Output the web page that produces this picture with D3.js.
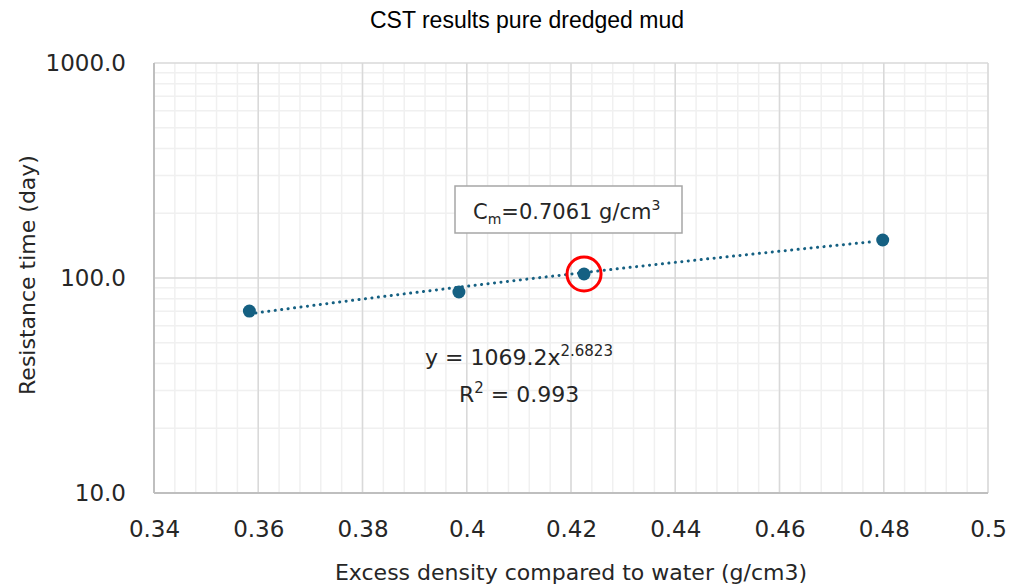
<!DOCTYPE html>
<html>
<head>
<meta charset="utf-8">
<script src="https://cdn.jsdelivr.net/npm/d3@7"></script>
<style>
  body { margin: 0; background: #fff; }
  svg { font-family: "DejaVu Sans", sans-serif; }
</style>
</head>
<body>
<script>
// data
var density = [0.3583, 0.3985, 0.4225, 0.4798];
var resistance = [70.2, 86.1, 104.4, 150.2];
var xTicks = [0.34, 0.36, 0.38, 0.4, 0.42, 0.44, 0.46, 0.48, 0.5];
var yTicks = [10, 100, 1000];
var fitCoef = 1069.2, fitExp = 2.6823, fitR2 = 0.993;
var highlightIndex = 2;

var w = 1014, h = 585;
var margin = {top: 63, right: 26, bottom: 92, left: 154},
    width = w - margin.left - margin.right,
    height = h - margin.top - margin.bottom;

var svg = d3.select("body").append("svg")
    .attr("width", w)
    .attr("height", h);

var g = svg.append("g")
    .attr("transform", "translate(" + margin.left + "," + margin.top + ")");

var xScale = d3.scaleLinear().domain([0.34, 0.5]).range([0, width]);
var yScale = d3.scaleLog().domain([10, 1000]).range([height, 0]);

// minor grid
var xMinor = d3.range(0.34, 0.5001, 0.004);
g.selectAll(".xminor").data(xMinor).enter().append("line")
    .attr("x1", function(d) { return xScale(d); })
    .attr("x2", function(d) { return xScale(d); })
    .attr("y1", 0).attr("y2", height)
    .attr("stroke", "#f0f0f0").attr("stroke-width", 1.5);

var yMinor = [];
[10, 100].forEach(function(b) { for (var k = 2; k < 10; k++) yMinor.push(b * k); });
g.selectAll(".yminor").data(yMinor).enter().append("line")
    .attr("x1", 0).attr("x2", width)
    .attr("y1", function(d) { return yScale(d); })
    .attr("y2", function(d) { return yScale(d); })
    .attr("stroke", "#f0f0f0").attr("stroke-width", 1.5);

// major grid
g.selectAll(".xmajor").data(xTicks).enter().append("line")
    .attr("x1", function(d) { return xScale(d); })
    .attr("x2", function(d) { return xScale(d); })
    .attr("y1", 0).attr("y2", height)
    .attr("stroke", "#d9d9d9").attr("stroke-width", 1.5);
g.selectAll(".ymajor").data(yTicks).enter().append("line")
    .attr("x1", 0).attr("x2", width)
    .attr("y1", function(d) { return yScale(d); })
    .attr("y2", function(d) { return yScale(d); })
    .attr("stroke", "#d9d9d9").attr("stroke-width", 1.5);

// axes lines
g.append("line").attr("x1", 0).attr("x2", 0).attr("y1", 0).attr("y2", height)
    .attr("stroke", "#bfbfbf").attr("stroke-width", 2);
g.append("line").attr("x1", 0).attr("x2", width).attr("y1", height).attr("y2", height)
    .attr("stroke", "#bfbfbf").attr("stroke-width", 2);

// tick labels
var xAxis = g.append("g")
    .attr("transform", "translate(0," + height + ")")
    .call(d3.axisBottom(xScale).tickValues(xTicks).tickSize(0).tickPadding(28)
        .tickFormat(function(d) { return String(+d.toFixed(2)); }));
xAxis.select(".domain").remove();
xAxis.selectAll("text").attr("font-size", "23px").attr("fill", "#262626")
    .attr("font-family", "'DejaVu Sans', sans-serif");

var yAxis = g.append("g")
    .call(d3.axisLeft(yScale).tickValues(yTicks).tickSize(0).tickPadding(28)
        .tickFormat(d3.format(".1f")));
yAxis.select(".domain").remove();
yAxis.selectAll("text").attr("font-size", "23px").attr("fill", "#262626")
    .attr("font-family", "'DejaVu Sans', sans-serif");

// trendline
var fitX = d3.range(d3.min(density), d3.max(density) + 0.0001, 0.002);
var line = d3.line()
    .x(function(d) { return xScale(d); })
    .y(function(d) { return yScale(fitCoef * Math.pow(d, fitExp)); });
g.append("path")
    .attr("d", line(fitX))
    .attr("fill", "none")
    .attr("stroke", "#156082")
    .attr("stroke-width", 3)
    .attr("stroke-linecap", "round")
    .attr("stroke-dasharray", "0.1 6.4");

// points
g.selectAll(".dot").data(density).enter().append("circle")
    .attr("cx", function(d) { return xScale(d); })
    .attr("cy", function(d, i) { return yScale(resistance[i]); })
    .attr("r", 6.5)
    .attr("fill", "#156082");

// highlight circle
g.append("circle")
    .attr("cx", xScale(density[highlightIndex]))
    .attr("cy", yScale(resistance[highlightIndex]))
    .attr("r", 17)
    .attr("fill", "none")
    .attr("stroke", "#ff0000")
    .attr("stroke-width", 3);

// Cm annotation box
svg.append("rect")
    .attr("x", 455).attr("y", 186).attr("width", 227).attr("height", 47)
    .attr("fill", "#fff").attr("stroke", "#a6a6a6").attr("stroke-width", 1.5);
var cm = svg.append("text")
    .attr("x", 473).attr("y", 219)
    .attr("font-size", "21px").attr("fill", "#262626");
cm.append("tspan").text("C");
cm.append("tspan").attr("font-size", "14px").attr("dy", 5).text("m");
cm.append("tspan").attr("dy", -5).text("=0.7061 g/cm");
cm.append("tspan").attr("font-size", "14px").attr("dy", -9).text("3");

// equation
var eq = svg.append("text")
    .attr("x", 425).attr("y", 365)
    .attr("font-size", "22px").attr("fill", "#262626");
eq.append("tspan").text("y = " + fitCoef + "x");
eq.append("tspan").attr("font-size", "15px").attr("dy", -9).text(fitExp);
var r2 = svg.append("text")
    .attr("x", 459).attr("y", 402)
    .attr("font-size", "22px").attr("fill", "#262626");
r2.append("tspan").text("R");
r2.append("tspan").attr("font-size", "15px").attr("dy", -9).text("2");
r2.append("tspan").attr("dy", 9).text(" = " + fitR2);

// titles
svg.append("text")
    .attr("x", 527).attr("y", 28)
    .attr("text-anchor", "middle")
    .attr("font-family", "'Liberation Sans', Arial, sans-serif")
    .attr("font-size", "23px").attr("fill", "#000")
    .text("CST results pure dredged mud");

svg.append("text")
    .attr("x", 571).attr("y", 580)
    .attr("text-anchor", "middle")
    .attr("font-size", "22px").attr("fill", "#262626")
    .text("Excess density compared to water (g/cm3)");

svg.append("text")
    .attr("transform", "translate(35,275) rotate(-90)")
    .attr("text-anchor", "middle")
    .attr("font-size", "22px").attr("fill", "#262626")
    .text("Resistance time (day)");
</script>
</body>
</html>
